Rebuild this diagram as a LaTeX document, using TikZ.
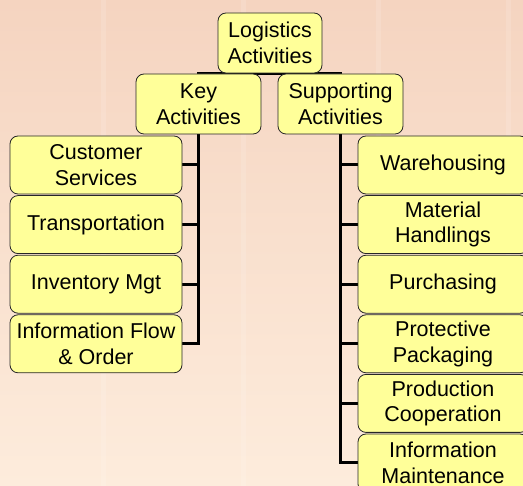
\documentclass[tikz,border=0pt]{standalone}
\usepackage{fontspec}
\setmainfont{Liberation Sans}
\usetikzlibrary{backgrounds}

\definecolor{boxyellow}{RGB}{255,255,153}
\definecolor{peachtop}{RGB}{245,212,192}
\definecolor{peachmid}{RGB}{249,224,206}
\definecolor{peachbot}{RGB}{253,236,220}

\begin{document}
\begin{tikzpicture}[x=1pt,y=-1pt,
  actbox/.style={draw=black!85,line width=0.8pt,rounded corners=8pt,fill=boxyellow,align=center,inner sep=0pt,font=\fontsize{21.5}{25.5}\selectfont},
  link/.style={line width=3pt,black},
  streak/.style={fill=white,opacity=0.13}]
\path[use as bounding box,clip] (0,0) rectangle (523,486);
\begin{scope}[on background layer]
\shade[top color=peachtop,middle color=peachmid,bottom color=peachbot] (0,0) rectangle (523,486);
\foreach \sx in {101,241,376,506}
  \fill[streak] (\sx,0) rectangle ++(5,486);
\end{scope}

% top levels
\node[actbox,minimum width=104pt,minimum height=60pt] (root) at (270,43) {Logistics\\Activities};
\node[actbox,minimum width=125pt,minimum height=60pt] (key) at (198.5,104) {Key\\Activities};
\node[actbox,minimum width=125pt,minimum height=60pt] (supp) at (340.5,104) {Supporting\\Activities};

% key activities column
\node[actbox,minimum width=172pt,minimum height=58pt] (cs) at (96,165) {Customer\\Services};
\node[actbox,minimum width=172pt,minimum height=58pt] (tr) at (96,224.6) {Transportation};
\node[actbox,minimum width=172pt,minimum height=58pt] (im) at (96,284.2) {Inventory Mgt};
\node[actbox,minimum width=172pt,minimum height=58pt] (if) at (96,343.8) {Information Flow\\\& Order};

% supporting activities column
\node[actbox,minimum width=170pt,minimum height=58pt] (wh) at (443,165) {Warehousing};
\node[actbox,minimum width=170pt,minimum height=58pt] (mh) at (443,224.6) {Material\\Handlings};
\node[actbox,minimum width=170pt,minimum height=58pt] (pu) at (443,284.2) {Purchasing};
\node[actbox,minimum width=170pt,minimum height=58pt] (pp) at (443,343.8) {Protective\\Packaging};
\node[actbox,minimum width=170pt,minimum height=58pt] (pc) at (443,403.4) {Production\\Cooperation};
\node[actbox,minimum width=170pt,minimum height=58pt] (ima) at (443,463) {Information\\Maintenance};

\begin{scope}[on background layer]
\draw[link] (key.north) |- (root.south) -| (supp.north);
\draw[link] (key.south) |- (if.east);
\foreach \n in {cs,tr,im}
  \draw[link] (\n.east) -- (\n.east -| key.south);
\draw[link] (supp.south) |- (ima.west);
\foreach \n in {wh,mh,pu,pp,pc}
  \draw[link] (\n.west) -- (\n.west -| supp.south);
\end{scope}
\end{tikzpicture}
\end{document}
